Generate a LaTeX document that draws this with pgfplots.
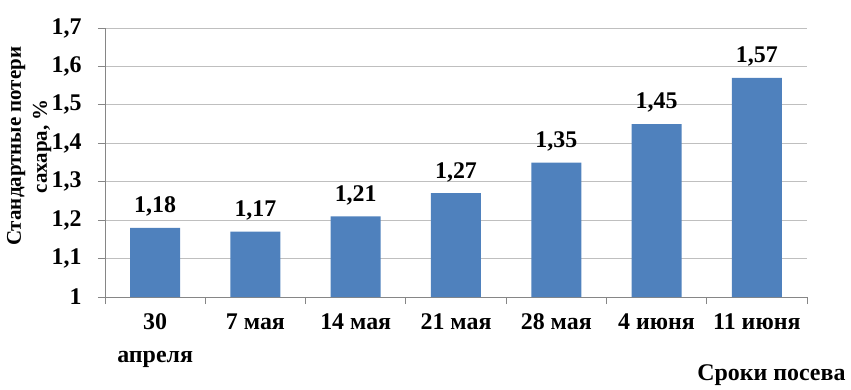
\documentclass[border=0pt]{standalone}
\usepackage{fontspec}
\setmainfont{Liberation Serif}
\usepackage{pgfplots}
\pgfplotsset{compat=1.18}
\definecolor{barblue}{HTML}{4F81BD}
\definecolor{gridgray}{HTML}{BFBFBF}
\definecolor{axgray}{HTML}{868686}
\newcommand{\lf}{\bfseries\fontsize{24}{28}\selectfont}
\begin{document}
\begin{tikzpicture}[x=1bp,y=1bp]
\begin{axis}[
  at={(0,0)}, anchor=south west,
  scale only axis,
  width=702bp, height=269bp,
  xmin=-0.5, xmax=6.5, ymin=1, ymax=1.7,
  ytick={1,1.1,1.2,1.3,1.4,1.5,1.6,1.7},
  xtick={-0.5,0.5,1.5,2.5,3.5,4.5,5.5,6.5},
  x tick label as interval,
  xticklabels={{30\\апреля},{7 мая},{14 мая},{21 мая},{28 мая},{4 июня},{11 июня}},
  xticklabel style={align=center, font=\bfseries\fontsize{24}{33}\selectfont, yshift=-6bp},
  yticklabel style={font=\lf, xshift=-13bp},
  /pgf/number format/assume math mode=true,
  y tick label style={/pgf/number format/use comma, /pgf/number format/fixed, /pgf/number format/precision=1},
  ymajorgrids,
  grid style={gridgray, line width=0.8pt},
  axis x line*=bottom, axis y line*=left,
  axis line style={-, axgray, line width=0.8pt},
  tick style={axgray, line width=0.8pt},
  tick align=outside,
  major tick length=7bp,
  ylabel={Стандартные потери\\сахара, \%},
  ylabel style={align=center, font=\bfseries\fontsize{21}{26}\selectfont, at={(axis description cs:-0.108,0.56)}, anchor=center},
  ybar, bar width=50bp,
  nodes near coords={\pgfmathprintnumber[fixed, fixed zerofill, precision=2, use comma, assume math mode=true]{\pgfplotspointmeta}},
  nodes near coords style={font=\lf, yshift=8bp},
  clip=false,
]
\addplot[fill=barblue, draw=none] coordinates {(0,1.18) (1,1.17) (2,1.21) (3,1.27) (4,1.35) (5,1.45) (6,1.57)};
\end{axis}
\node[anchor=base east, font=\lf] at (744bp,-83bp) {Сроки посева};
\pgfresetboundingbox
\path[use as bounding box] (-105bp,-93bp) rectangle (746bp,297bp);
\end{tikzpicture}
\end{document}
